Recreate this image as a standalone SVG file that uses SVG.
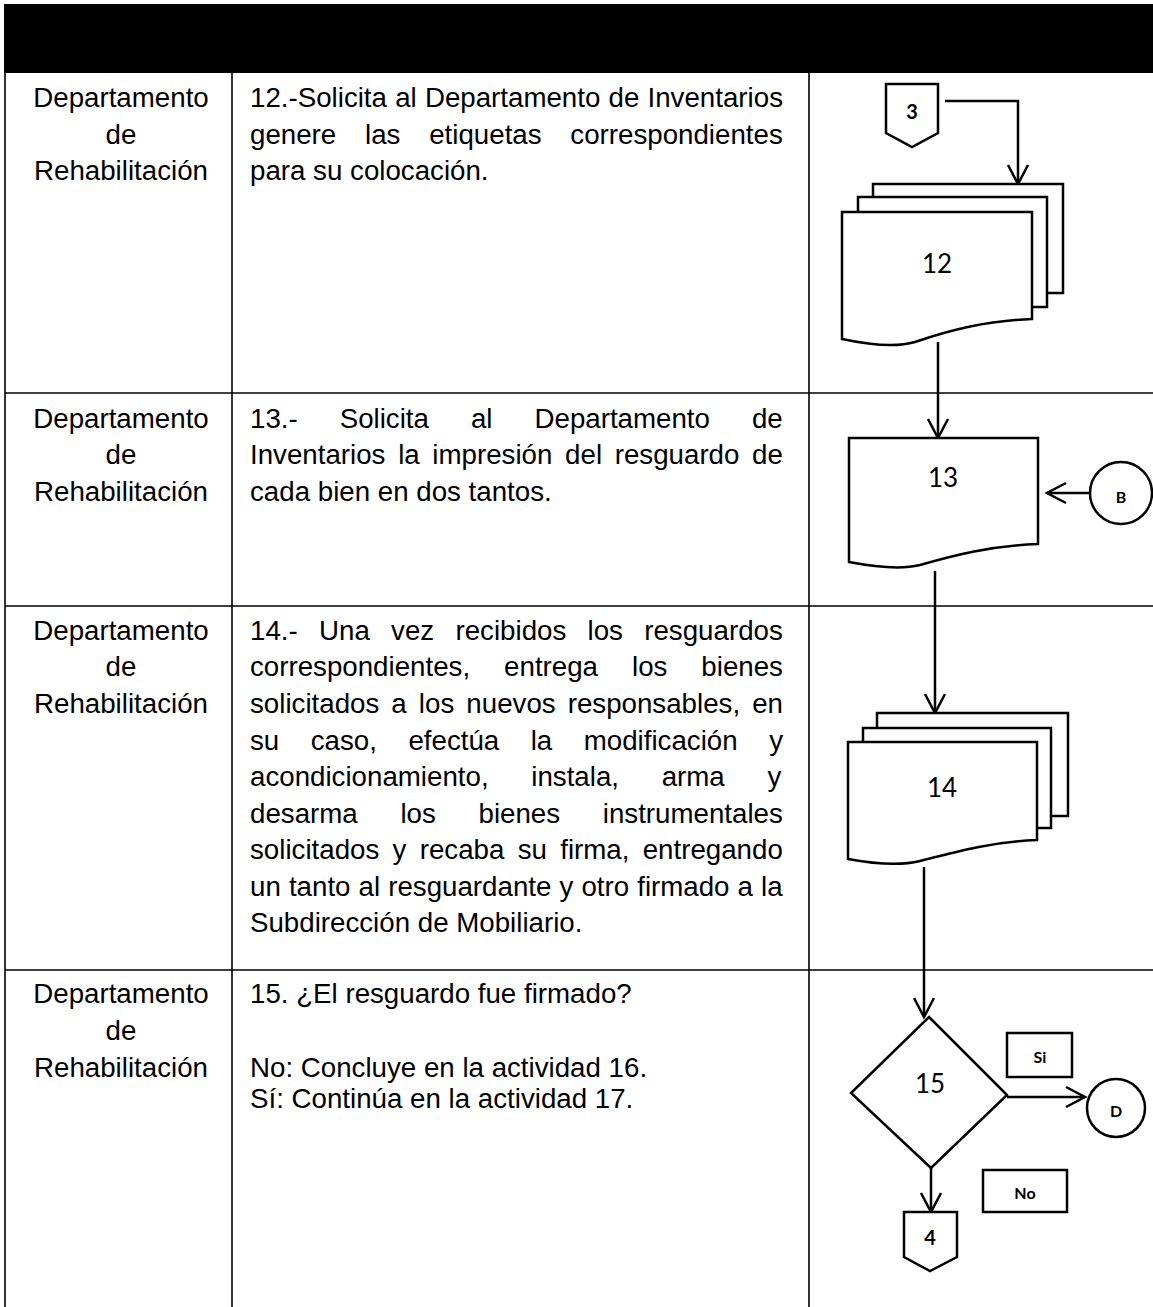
<svg xmlns="http://www.w3.org/2000/svg" width="1153" height="1307" viewBox="0 0 1153 1307">
<style>
.grid{stroke:#000;stroke-width:1.6;fill:none}
.t{font-family:"Liberation Sans",Arial,sans-serif;font-size:27.7px;fill:#000}
.c{text-anchor:middle}
.sh{fill:#fff;stroke:#000;stroke-width:2.5}
.lbl{font-family:Lato,"Open Sans",sans-serif;font-size:26px;fill:#000;text-anchor:middle;dominant-baseline:central}
.sm{font-family:Lato,"Open Sans",sans-serif;font-size:16px;font-weight:bold;fill:#000;text-anchor:middle;dominant-baseline:central}
.ln{fill:none;stroke:#000;stroke-width:2.5}
</style>
<defs>
<marker id="ah" markerUnits="userSpaceOnUse" markerWidth="24" markerHeight="24" viewBox="0 0 24 24" refX="21" refY="12" orient="auto">
<path d="M2,2 L21,12 L2,22" fill="none" stroke="#000" stroke-width="2.5"/>
</marker>
</defs>
<rect x="0" y="0" width="1153" height="1307" fill="#fff"/>
<rect x="4" y="4" width="1149" height="69" fill="#000"/>
<g id="table">
<line class="grid" x1="5" y1="73" x2="5" y2="1307"/>
<line class="grid" x1="232" y1="73" x2="232" y2="1307"/>
<line class="grid" x1="809" y1="73" x2="809" y2="1307"/>
<line class="grid" x1="5" y1="393" x2="1153" y2="393"/>
<line class="grid" x1="5" y1="606" x2="1153" y2="606"/>
<line class="grid" x1="5" y1="970" x2="1153" y2="970"/>
</g>
<g id="row1-text">
<text class="t c" x="121" y="107">Departamento</text>
<text class="t c" x="121" y="144">de</text>
<text class="t c" x="121" y="180">Rehabilitación</text>
<text class="t" x="250" y="107" word-spacing="0.5">12.-Solicita al Departamento de Inventarios</text>
<text class="t" x="250" y="144" word-spacing="21.1">genere las etiquetas correspondientes</text>
<text class="t" x="250" y="180">para su colocación.</text>
</g>
<g id="row2-text">
<text class="t c" x="121" y="428">Departamento</text>
<text class="t c" x="121" y="464">de</text>
<text class="t c" x="121" y="501">Rehabilitación</text>
<text class="t" x="250" y="428" word-spacing="34.3">13.- Solicita al Departamento de</text>
<text class="t" x="250" y="464" word-spacing="5">Inventarios la impresión del resguardo de</text>
<text class="t" x="250" y="501">cada bien en dos tantos.</text>
</g>
<g id="row3-text">
<text class="t c" x="121" y="640">Departamento</text>
<text class="t c" x="121" y="676">de</text>
<text class="t c" x="121" y="713">Rehabilitación</text>
<text class="t" x="250" y="640" word-spacing="13.6">14.- Una vez recibidos los resguardos</text>
<text class="t" x="250" y="676" word-spacing="26.3">correspondientes, entrega los bienes</text>
<text class="t" x="250" y="713" word-spacing="4.4">solicitados a los nuevos responsables, en</text>
<text class="t" x="250" y="750" word-spacing="23.8">su caso, efectúa la modificación y</text>
<text class="t" x="250" y="786" word-spacing="35">acondicionamiento, instala, arma y</text>
<text class="t" x="250" y="823" word-spacing="35">desarma los bienes instrumentales</text>
<text class="t" x="250" y="859" word-spacing="5.6">solicitados y recaba su firma, entregando</text>
<text class="t" x="250" y="896" word-spacing="0.4">un tanto al resguardante y otro firmado a la</text>
<text class="t" x="250" y="932">Subdirección de Mobiliario.</text>
</g>
<g id="row4-text">
<text class="t c" x="121" y="1003">Departamento</text>
<text class="t c" x="121" y="1040">de</text>
<text class="t c" x="121" y="1077">Rehabilitación</text>
<text class="t" x="250" y="1003">15. ¿El resguardo fue firmado?</text>
<text class="t" x="250" y="1077">No: Concluye en la actividad 16.</text>
<text class="t" x="250" y="1108">Sí: Continúa en la actividad 17.</text>
</g>
<g id="connectors">
<path class="ln" d="M945,101 H1018 V184" marker-end="url(#ah)"/>
<path class="ln" d="M938,342 V438" marker-end="url(#ah)"/>
<path class="ln" d="M1090,493 H1047" marker-end="url(#ah)"/>
<path class="ln" d="M935,571 V713" marker-end="url(#ah)"/>
<path class="ln" d="M924,867 V1017" marker-end="url(#ah)"/>
<path class="ln" d="M1007,1097 H1085" marker-end="url(#ah)"/>
<path class="ln" d="M931,1168 V1212" marker-end="url(#ah)"/>
</g>
<g id="node-3">
<path class="sh" d="M886,84 H938 V133 L912,147 L886,133 Z"/>
<text class="lbl" x="912" y="111" style="font-size:20px;font-weight:bold">3</text>
</g>
<g id="node-12">
<rect class="sh" x="873" y="184" width="190" height="109"/>
<rect class="sh" x="858" y="197" width="189" height="110"/>
<path class="sh" d="M842,212 H1032 V319 C985,321 950,330 915,342 C895,348 870,345 842,339 Z"/>
<text class="lbl" x="937" y="263">12</text>
</g>
<g id="node-13">
<path class="sh" d="M849,438 H1038 V544 C990,546 955,555 920,565 C900,570 875,567 849,562 Z"/>
<text class="lbl" x="943" y="477">13</text>
</g>
<g id="node-B">
<circle class="sh" cx="1121" cy="493" r="31"/>
<text class="sm" x="1121" y="496">B</text>
</g>
<g id="node-14">
<rect class="sh" x="877" y="713" width="191" height="103"/>
<rect class="sh" x="863" y="728" width="188" height="100"/>
<path class="sh" d="M848,742 H1037 V840 C990,842 955,852 920,861 C900,866 875,864 848,859 Z"/>
<text class="lbl" x="942" y="787">14</text>
</g>
<g id="node-15">
<path class="sh" d="M929,1017 L1007,1095 L931,1168 L851,1093 Z"/>
<text class="lbl" x="930" y="1083">15</text>
</g>
<g id="node-si">
<rect class="sh" x="1007" y="1033" width="65" height="44"/>
<text class="sm" x="1040" y="1056">Si</text>
</g>
<g id="node-D">
<circle class="sh" cx="1116" cy="1108" r="29"/>
<text class="sm" x="1116" y="1110">D</text>
</g>
<g id="node-no">
<rect class="sh" x="983" y="1170" width="84" height="42"/>
<text class="sm" x="1025" y="1192">No</text>
</g>
<g id="node-4">
<path class="sh" d="M904,1212 H957 V1257 L930,1271 L904,1257 Z"/>
<text class="lbl" x="930" y="1237" style="font-size:20px;font-weight:bold">4</text>
</g>
</svg>
